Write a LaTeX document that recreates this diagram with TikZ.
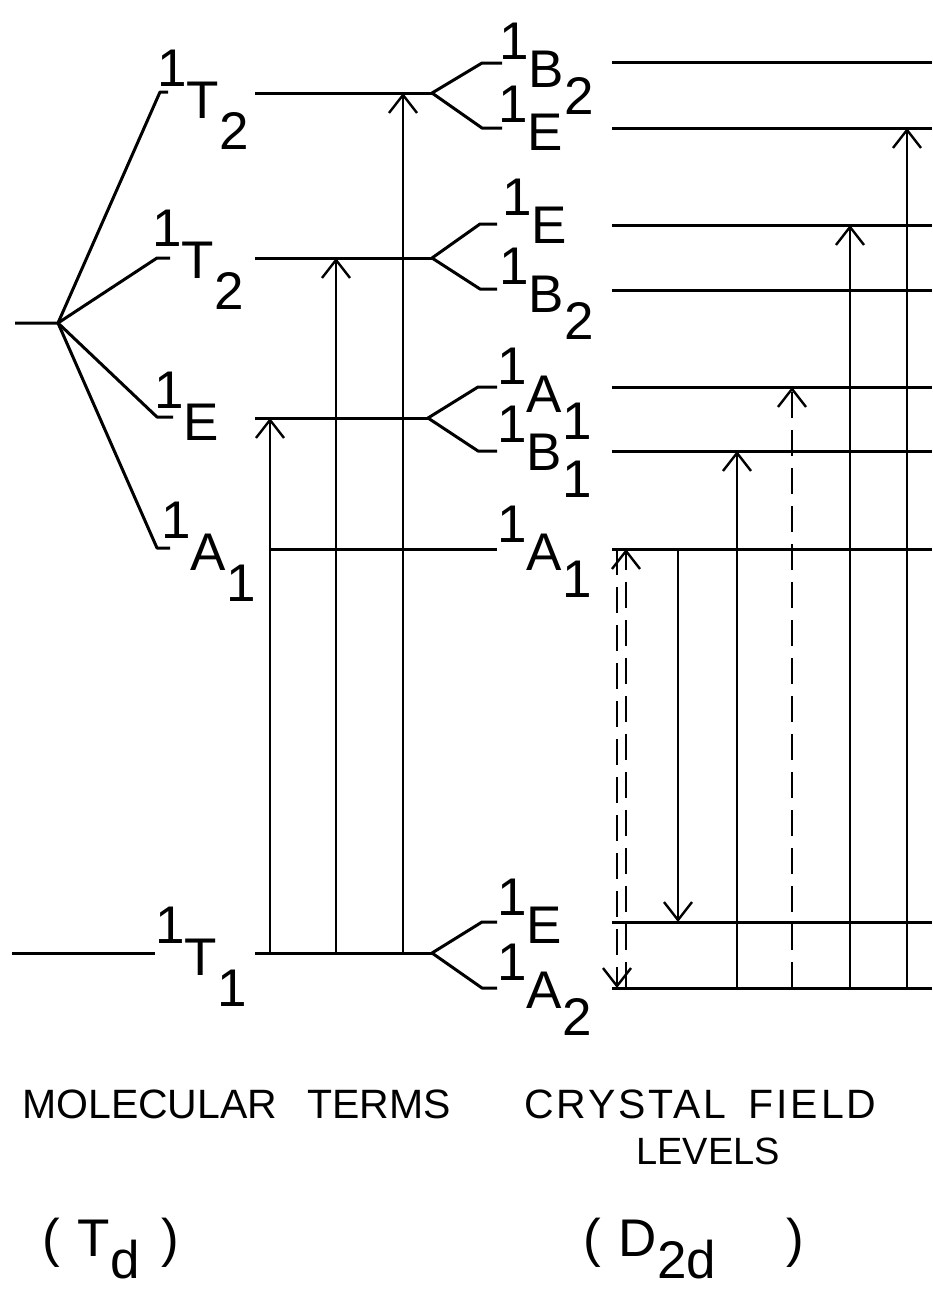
\documentclass[tikz,border=0pt]{standalone}
\usepackage{fontspec}
\setmainfont{Liberation Sans}
\newfontfamily\widefont[LetterSpace=7]{Liberation Sans}
\usetikzlibrary{arrows.meta}
\newcommand{\trm}[3][0.6em]{\raisebox{#1}{1}#2\raisebox{-#1}{#3}}

\begin{document}
\begin{tikzpicture}[x=1pt,y=-1pt,
    lvl/.style={line width=3pt},
    fork/.style={line width=3pt,line join=round},
    trans/.style={line width=2.4pt,-{Straight Barb[length=18pt,width=28pt]}},
    dsh/.style={dash pattern=on 26pt off 12pt},
    term/.style={inner sep=0pt,anchor=base west,font=\fontsize{53}{60}\selectfont},
    captxt/.style={inner sep=0pt,anchor=base west,font=\fontsize{41}{46}\selectfont}]
  \useasboundingbox (0,0) rectangle (932,1293);

  % T_d splitting
  \coordinate (stub) at (15,323);
  \coordinate (br) at (58,323);
  \draw[fork] (stub) -- (br) -- (160,92) -- (168,92);
  \draw[fork] (br) -- (157,258) -- (170,258);
  \draw[fork] (br) -- (157,417) -- (173,417);
  \draw[fork] (br) -- (157,548) -- (170,548);
  \draw[lvl] (12,953) -- (155,953);

  % molecular terms
  \draw[lvl] (255,93) coordinate (T2a) -- (432,93) coordinate (T2aR);
  \draw[lvl] (255,258) coordinate (T2b) -- (432,258) coordinate (T2bR);
  \draw[lvl] (255,418) coordinate (E) -- (428,418) coordinate (ER);
  \draw[lvl] (270,549) coordinate (A1) -- (497,549);
  \draw[lvl] (255,953) coordinate (T1) -- (432,953) coordinate (T1R);

  % splitting into D_2d
  \draw[fork] (502,63) -- (482,63) -- (T2aR) -- (482,128) -- (502,128);
  \draw[fork] (497,224) -- (480,224) -- (T2bR) -- (480,289) -- (497,289);
  \draw[fork] (497,387) -- (478,387) -- (ER) -- (478,451) -- (497,451);
  \draw[fork] (497,922) -- (482,922) -- (T1R) -- (482,988) -- (497,988);

  % crystal field levels
  \foreach \y/\n in {62/b2a,128/ea,225/eb,290/b2b,387/a1a,451/b1,549/a1b,922/ec,988/a2}
    \draw[lvl] (612,\y) coordinate (\n) -- (932,\y);

  % transitions
  \foreach \x/\a/\b in {270/T1/E,336/T1/T2b,403/T1/T2a}
    \draw[trans] (\x,0 |- \a) -- (\x,0 |- \b);
  \draw[trans,dsh] (626,0 |- a2) -- (626,0 |- a1b);
  \draw[trans,dsh] (617,0 |- a1b) -- (617,0 |- a2);
  \draw[trans] (678,0 |- a1b) -- (678,0 |- ec);
  \draw[trans] (737,0 |- a2) -- (737,0 |- b1);
  \draw[trans,dsh] (792,0 |- a2) -- (792,0 |- a1a);
  \draw[trans] (850,0 |- a2) -- (850,0 |- eb);
  \draw[trans] (907,0 |- a2) -- (907,0 |- ea);

  % term symbols
  \node[term] (lT2a) at (157,118) {\trm{T}{2}};
  \node[term] (lT2b) at (152,278) {\trm{T}{2}};
  \node[term] (lE) at (154,440) {\trm{E}{}};
  \node[term] (lA1) at (161,570) {\trm{A}{1}};
  \node[term] (lT1) at (155,975) {\trm{T}{1}};

  \node[term] (rB2a) at (499,87) {\trm[0.51em]{B}{2}};
  \node[term] (rEa) at (498,150) {\trm[0.51em]{E}{}};
  \node[term] (rEb) at (502,243) {\trm[0.51em]{E}{}};
  \node[term] (rB2b) at (499,312) {\trm[0.51em]{B}{2}};
  \node[term] (rA1a) at (497,412) {\trm[0.51em]{A}{1}};
  \node[term] (rB1) at (497,470) {\trm[0.51em]{B}{1}};
  \node[term] (rA1b) at (497,570) {\trm[0.51em]{A}{1}};
  \node[term] (rEc) at (497,943) {\trm[0.51em]{E}{}};
  \node[term] (rA2) at (497,1008) {\trm[0.51em]{A}{2}};

  % captions
  \node[captxt] (mol) at (22,1118) {MOLECULAR\hspace{30pt}TERMS};
  \node[captxt] (cf) at (524,1118) {\widefont CRYSTAL\hspace{22pt}FIELD};
  \node[captxt,font=\fontsize{38}{44}\selectfont] (lev) at (636,1164) {LEVELS};
  \node[term] (td) at (42,1256) {(\hspace{18pt}T\raisebox{-0.42em}{d}\hspace{22pt})};
  \node[term] (d2d) at (583,1256) {(\hspace{18pt}D\raisebox{-0.42em}{2d}\hspace{70pt})};
\end{tikzpicture}
\end{document}
